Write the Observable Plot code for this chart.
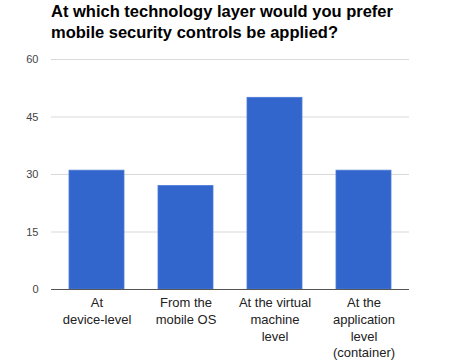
<!DOCTYPE html>
<html>
<head>
<meta charset="utf-8">
<script src="https://cdn.jsdelivr.net/npm/d3@7"></script>
<script src="https://cdn.jsdelivr.net/npm/@observablehq/plot@0.6"></script>
<style>
  html, body { margin: 0; padding: 0; background: #fff; }
  body { width: 450px; height: 362px; overflow: hidden; font-family: "Liberation Sans", Arial, sans-serif; }
  #title { font-weight: bold; font-size: 16.5px; line-height: 21px; color: #000; padding: 1px 0 0 51px; height: 43px; box-sizing: border-box; }
  svg { display: block; }
</style>
</head>
<body>
<div id="title">At which technology layer would you prefer<br>mobile security controls be applied?</div>
<div id="chart"></div>
<script>
const categories = [
  "At\ndevice-level",
  "From the\nmobile OS",
  "At the virtual\nmachine\nlevel",
  "At the\napplication\nlevel\n(container)"
];
const values = [31, 27, 50, 31];
const yTicks = [0, 15, 30, 45, 60];

const data = categories.map((c, i) => ({category: c, value: values[i]}));

const chart = Plot.plot({
  width: 450,
  height: 319,
  marginTop: 16,
  marginBottom: 73,
  marginLeft: 51,
  marginRight: 41,
  style: {fontFamily: '"Liberation Sans", Arial, sans-serif', background: "#fff"},
  x: {domain: categories, paddingInner: 0.385, paddingOuter: 0.1925, align: 0.5},
  y: {domain: [0, 60]},
  marks: [
    Plot.ruleY(yTicks.filter(d => d !== 0), {stroke: "#d9d9d9", strokeWidth: 1}),
    Plot.barY(data, {x: "category", y: "value", fill: "#3366cc", stroke: "#4d7ad6", strokeWidth: 0.8}),
    Plot.ruleY([0], {stroke: "#555", strokeWidth: 1.2}),
    Plot.axisY({ticks: yTicks, tickSize: 0, tickPadding: 13, fontSize: 11, fill: "#444", label: null}),
    Plot.axisX({tickSize: 0, tickPadding: 6, fontSize: 13, fill: "#222", lineHeight: 1.28, label: null})
  ]
});
document.getElementById("chart").appendChild(chart);
</script>
</body>
</html>
